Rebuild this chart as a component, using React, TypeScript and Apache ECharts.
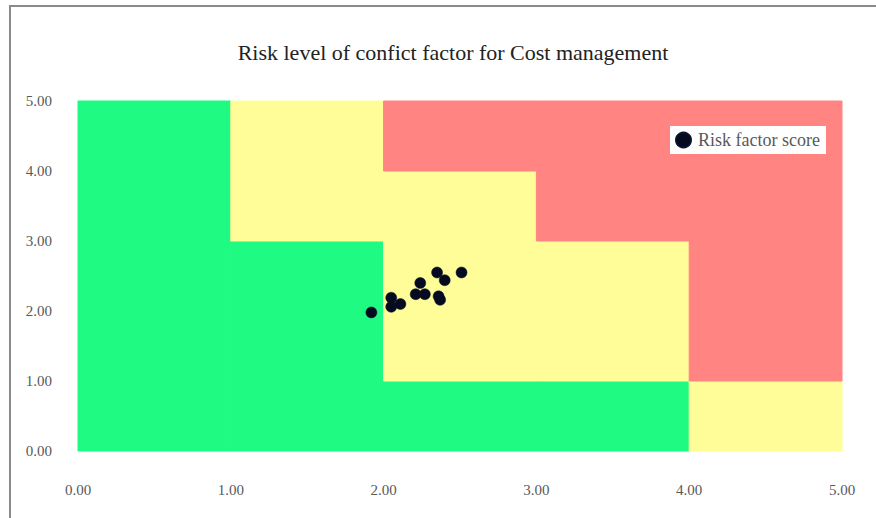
import React, { useEffect, useRef } from "react";
import * as echarts from "echarts";

const titleText = "Risk level of confict factor for Cost management";
const seriesName = "Risk factor score";
const xTicks = ["0.00", "1.00", "2.00", "3.00", "4.00", "5.00"];
const yTicks = ["0.00", "1.00", "2.00", "3.00", "4.00", "5.00"];

// [x0, y0, x1, y1]
const greenZones = [
  [0, 0, 1, 5],
  [1, 0, 2, 3],
  [2, 0, 4, 1],
];
const yellowZones = [
  [1, 3, 2, 5],
  [2, 1, 3, 4],
  [3, 1, 4, 3],
  [4, 0, 5, 1],
];
const redZones = [
  [2, 4, 3, 5],
  [3, 3, 4, 5],
  [4, 1, 5, 5],
];

const scoresX = [1.92, 2.05, 2.05, 2.11, 2.24, 2.21, 2.27, 2.35, 2.4, 2.51, 2.36, 2.37];
const scoresY = [1.98, 2.19, 2.06, 2.1, 2.4, 2.24, 2.24, 2.55, 2.44, 2.55, 2.21, 2.16];

const GREEN = "#1FFB82";
const YELLOW = "#FFFD98";
const RED = "#FF8482";

const zoneSeries = (zones: number[][], color: string) => ({
  type: "custom",
  silent: true,
  z: 1,
  data: zones,
  renderItem: (params: any, api: any) => {
    const p0 = api.coord([api.value(0), api.value(1)]);
    const p1 = api.coord([api.value(2), api.value(3)]);
    return {
      type: "rect",
      shape: {
        x: Math.min(p0[0], p1[0]),
        y: Math.min(p0[1], p1[1]),
        width: Math.abs(p1[0] - p0[0]),
        height: Math.abs(p1[1] - p0[1]),
      },
      style: { fill: color, stroke: color, lineWidth: 1 },
    };
  },
  encode: { x: [0, 2], y: [1, 3] },
});

export default function App() {
  const ref = useRef<HTMLDivElement>(null);
  useEffect(() => {
    document.body.style.margin = "0";
    const chart = echarts.init(ref.current!, undefined, { renderer: "svg" });
    const font = "'Liberation Serif', 'Times New Roman', serif";
    chart.setOption({
      animation: false,
      backgroundColor: "#ffffff",
      textStyle: { fontFamily: font },
      title: {
        text: titleText,
        left: 448,
        textAlign: "center",
        top: 36,
        textStyle: { fontFamily: font, fontSize: 22, fontWeight: "normal", color: "#222222" },
      },
      legend: {
        data: [seriesName],
        left: 670,
        top: 126,
        orient: "vertical",
        backgroundColor: "#ffffff",
        padding: [5, 6, 5, 5],
        itemWidth: 15,
        itemHeight: 15,
        itemGap: 0,
        icon: "circle",
        textStyle: { fontFamily: font, fontSize: 18, color: "#595959", padding: [0, 0, 0, 2] },
      },
      grid: { left: 78, right: 34, top: 101, bottom: 67 },
      xAxis: {
        type: "value",
        min: 0,
        max: 5,
        interval: 1,
        axisLine: { show: false },
        axisTick: { show: false },
        splitLine: { show: false },
        axisLabel: {
          margin: 31,
          fontFamily: font,
          fontSize: 15,
          color: "#595959",
          formatter: (v: number) => xTicks[Math.round(v)],
        },
      },
      yAxis: {
        type: "value",
        min: 0,
        max: 5,
        interval: 1,
        axisLine: { show: false },
        axisTick: { show: false },
        splitLine: { show: false },
        axisLabel: {
          margin: 26,
          fontFamily: font,
          fontSize: 15,
          color: "#595959",
          formatter: (v: number) => yTicks[Math.round(v)],
        },
      },
      graphic: [
        {
          type: "polyline",
          shape: { points: [[10, 540], [10, 6], [900, 6]] },
          style: { stroke: "#8a8a8a", lineWidth: 2, fill: "none" },
          z: 100,
        },
      ],
      series: [
        zoneSeries(greenZones, GREEN),
        zoneSeries(yellowZones, YELLOW),
        zoneSeries(redZones, RED),
        {
          name: seriesName,
          type: "scatter",
          z: 5,
          symbol: "circle",
          symbolSize: 11,
          itemStyle: { color: "#060a1e", opacity: 1, borderColor: "#0d1430", borderWidth: 0.5 },
          data: scoresX.map((x, i) => [x, scoresY[i]]),
        },
      ],
    });
    return () => chart.dispose();
  }, []);
  return (
    <div
      ref={ref}
      style={{ position: "absolute", left: 0, top: 0, width: 876, height: 518 }}
    />
  );
}
